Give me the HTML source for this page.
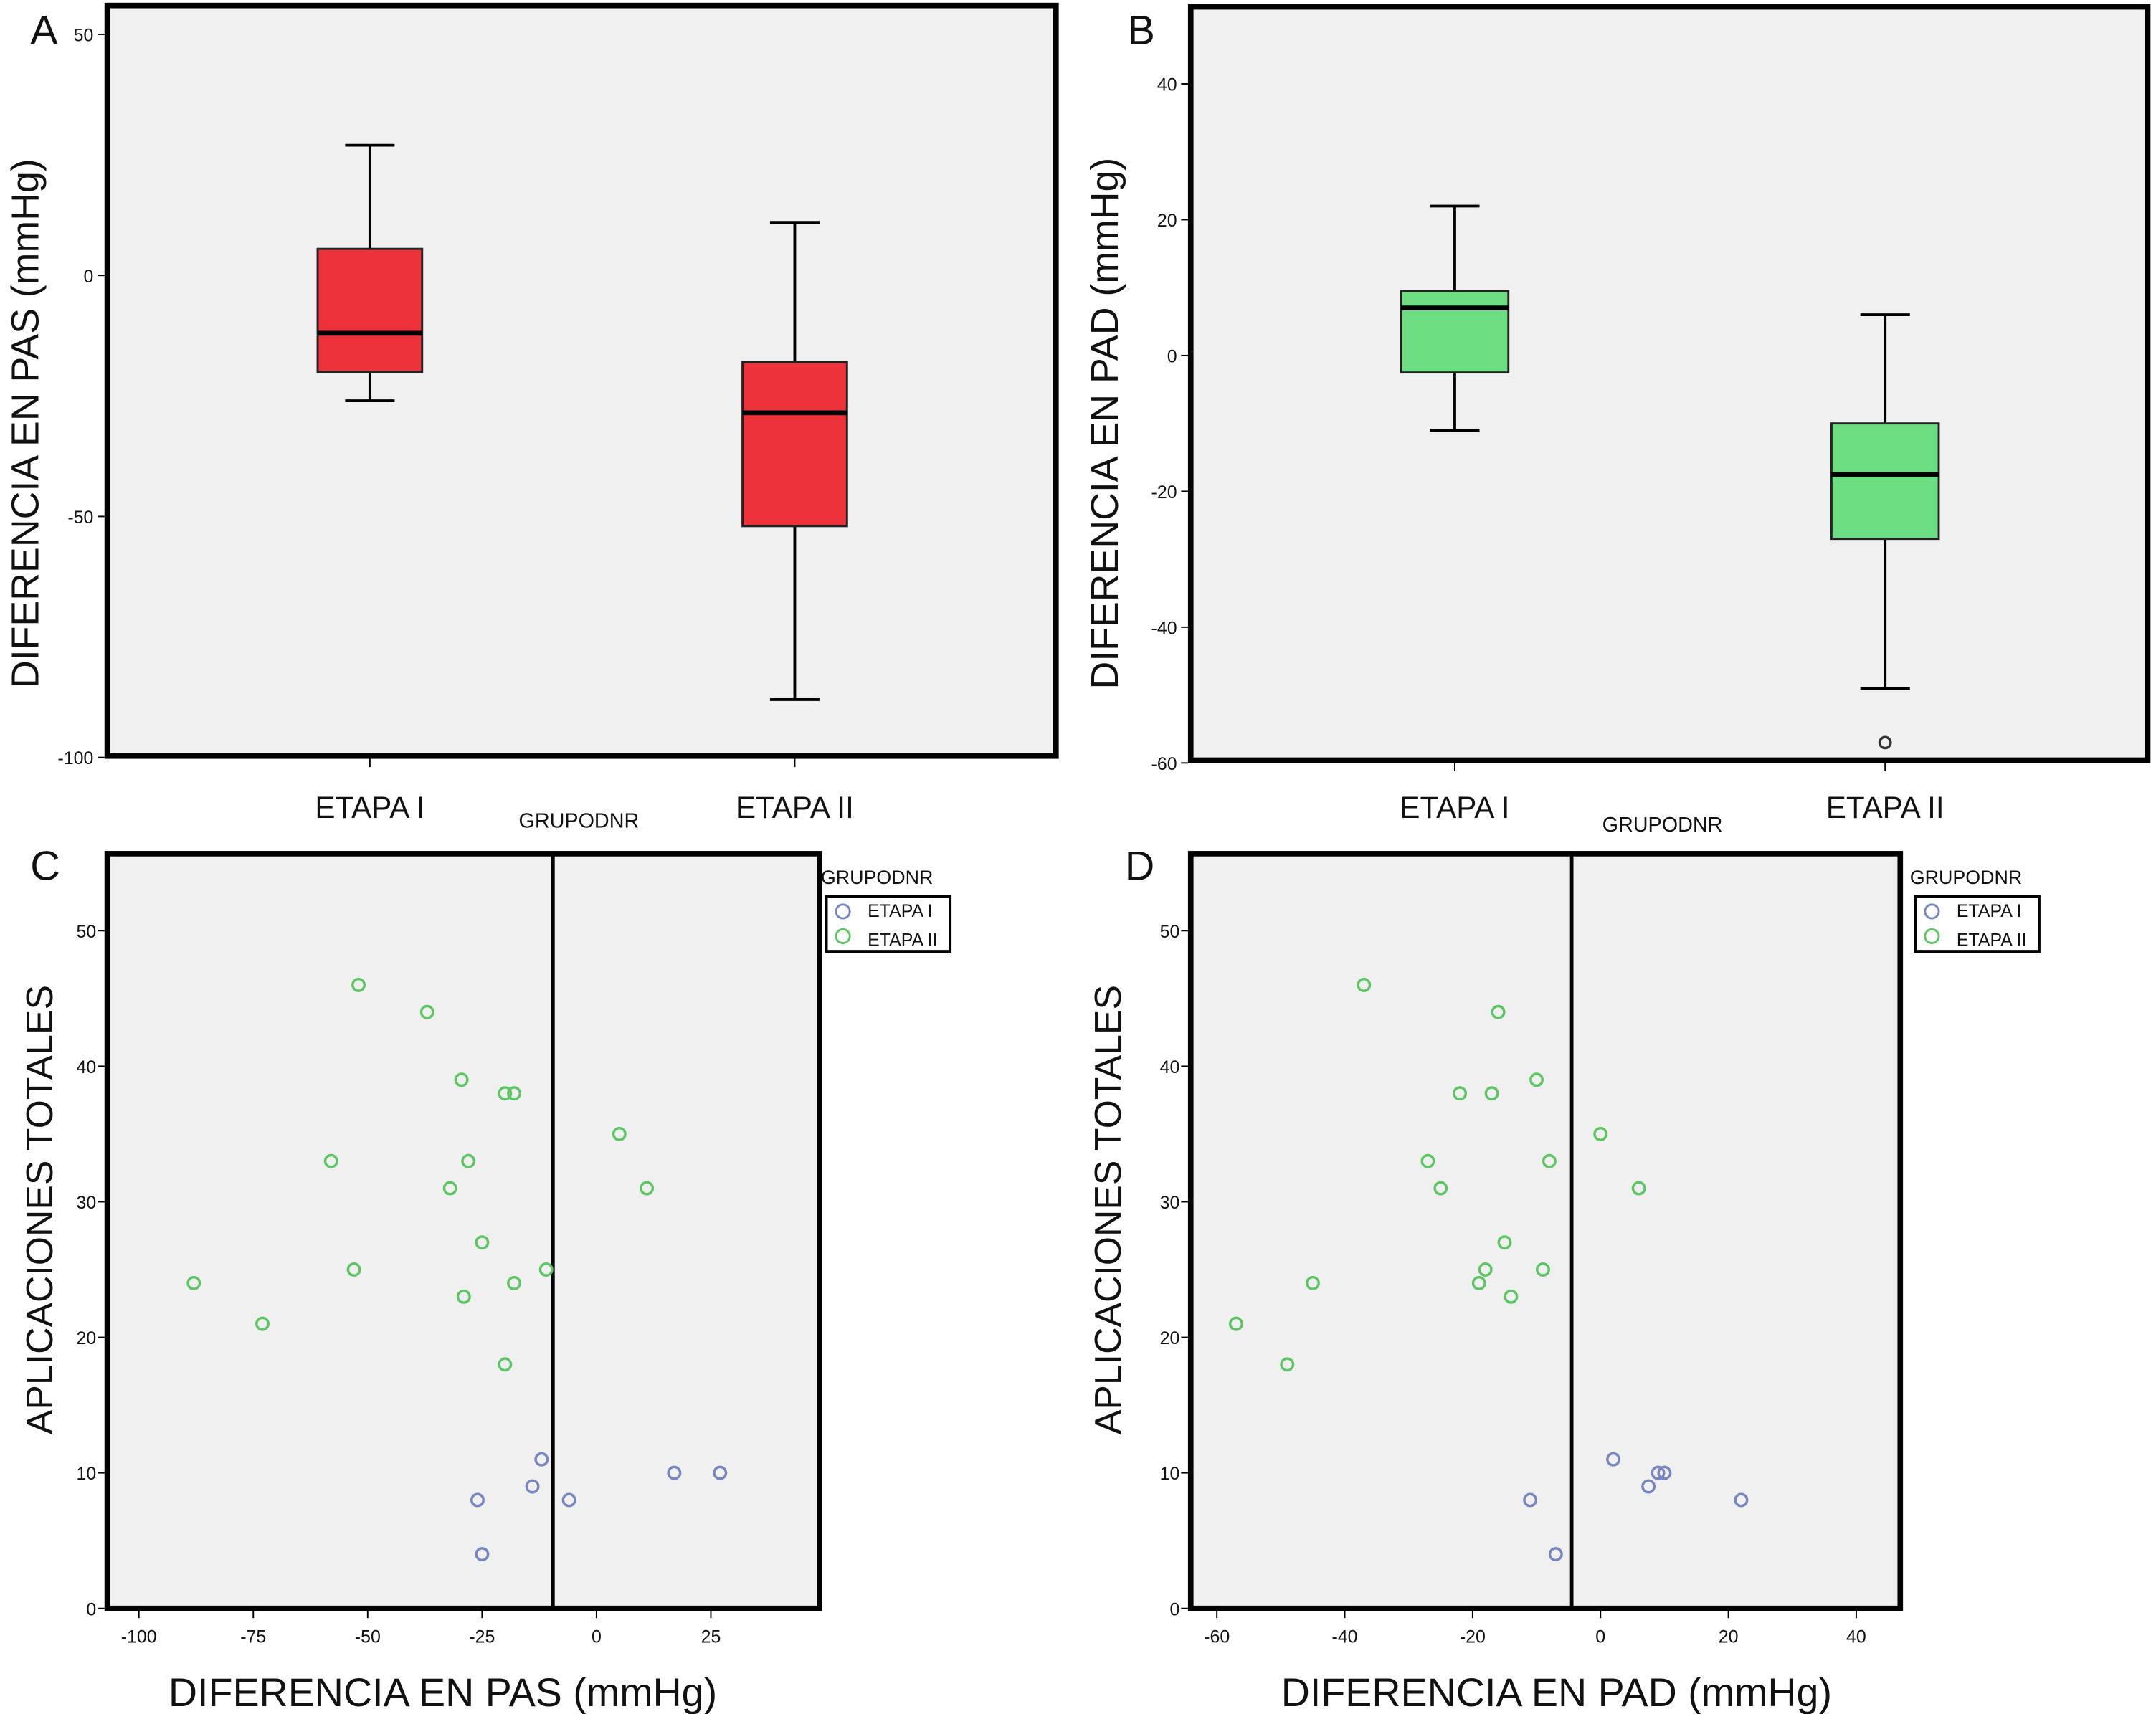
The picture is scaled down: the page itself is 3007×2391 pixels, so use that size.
<!DOCTYPE html>
<html><head><meta charset="utf-8"><style>
html,body{margin:0;padding:0;background:#fff}
svg{display:block}
text{font-family:"Liberation Sans",sans-serif;fill:#111}
</style></head><body>
<svg id="fig" width="3007" height="2391" viewBox="0 0 1568 1246.8" xmlns="http://www.w3.org/2000/svg"></svg>
<script>
// ---- data ----
const boxCategories = ["ETAPA I", "ETAPA II"];
const pasWhiskerLow = [-26, -88];
const pasQ1 = [-20, -52];
const pasMedian = [-12, -28.5];
const pasQ3 = [5.5, -18];
const pasWhiskerHigh = [27, 11];
const padWhiskerLow = [-11, -49];
const padQ1 = [-2.5, -27];
const padMedian = [7, -17.5];
const padQ3 = [9.5, -10];
const padWhiskerHigh = [22, 6];
const padOutliers = [[1, -57]];
const pasTicks = [50, 0, -50, -100];
const padTicks = [40, 20, 0, -20, -40, -60];
const scatterYTicks = [0, 10, 20, 30, 40, 50];
const pasXTicks = [-100, -75, -50, -25, 0, 25];
const padXTicks = [-60, -40, -20, 0, 20, 40];
const pasEtapa2X = [-52, -37, -29.5, -20, -18, 5, -58, -28, -32, 11, -25, -53, -11, -88, -18, -29, -73, -20];
const pasEtapa2Y = [46, 44, 39, 38, 38, 35, 33, 33, 31, 31, 27, 25, 25, 24, 24, 23, 21, 18];
const pasEtapa1X = [-12, 17, 27, -14, -26, -6, -25];
const pasEtapa1Y = [11, 10, 10, 9, 8, 8, 4];
const padEtapa2X = [-37, -16, -10, -22, -17, 0, -27, -8, -25, 6, -15, -18, -9, -45, -19, -14, -57, -49];
const padEtapa2Y = [46, 44, 39, 38, 38, 35, 33, 33, 31, 31, 27, 25, 25, 24, 24, 23, 21, 18];
const padEtapa1X = [2, 9, 10, 7.5, -11, 22, -7];
const padEtapa1Y = [11, 10, 10, 9, 8, 8, 4];
const pasRefLine = -9.5;
const padRefLine = -4.5;

const NS = "http://www.w3.org/2000/svg";
const svg = document.getElementById("fig");
function mk(tag, attrs, parent) {
  const e = document.createElementNS(NS, tag);
  for (const k in attrs) e.setAttribute(k, attrs[k]);
  (parent || svg).appendChild(e);
  return e;
}
function txt(s, attrs, parent) { const t = mk("text", attrs, parent); t.textContent = s; return t; }
function lin(d0, d1, r0, r1) { return v => r0 + (v - d0) * (r1 - r0) / (d1 - d0); }

function frame(x0, y0, x1, y1, name, parent) {
  const r = mk("rect", {x: x0, y: y0, width: x1 - x0, height: y1 - y0, fill: "#f0f0f0", stroke: "#000", "stroke-width": 4}, parent);
  
  
}

function boxPanel(o) {
  const g = mk("g", {});
  
  
  frame(o.x0, o.y0, o.x1, o.y1, o.name + "-frame", g);
  const y = lin(o.d0, o.d1, o.r0, o.r1);
  o.ticks.forEach(t => {
    mk("line", {x1: o.x0 - 7, x2: o.x0 - 2, y1: y(t), y2: y(t), stroke: "#000", "stroke-width": 1}, g);
    const l = txt(String(t), {x: o.x0 - 10, y: y(t) + 5, "font-size": 13, "text-anchor": "end"}, g);
    
    
  });
  boxCategories.forEach((c, i) => {
    const cx = o.cx[i], hw = o.hw, cw = 18;
    mk("line", {x1: cx, x2: cx, y1: o.y1 + 2, y2: o.y1 + 8, stroke: "#000"}, g);
    const w = mk("path", {d: `M${cx},${y(o.wh[i])}V${y(o.q3[i])}M${cx},${y(o.q1[i])}V${y(o.wl[i])}M${cx - cw},${y(o.wh[i])}H${cx + cw}M${cx - cw},${y(o.wl[i])}H${cx + cw}`, stroke: "#000", "stroke-width": 2, fill: "none"}, g);
    
    
    const b = mk("rect", {x: cx - hw, y: y(o.q3[i]), width: 2 * hw, height: y(o.q1[i]) - y(o.q3[i]), fill: o.color, stroke: "#222", "stroke-width": 1.5}, g);
    
    
    const m = mk("line", {x1: cx - hw, x2: cx + hw, y1: y(o.med[i]), y2: y(o.med[i]), stroke: "#000", "stroke-width": 3.5}, g);
    
    
    const cl = txt(c, {x: cx, y: 595, "font-size": 22, "text-anchor": "middle"}, g);
    
    
  });
  (o.outliers || []).forEach(p => {
    const c = mk("circle", {cx: o.cx[p[0]], cy: y(p[1]), r: 4, fill: "none", stroke: "#333", "stroke-width": 1.8}, g);
    
    
  });
  const yt = txt(o.ytitle, {x: 0, y: 0, "font-size": 28, "text-anchor": "middle", transform: `translate(${o.ytx},308) rotate(-90)`}, g);
  
  
  const pl = txt(o.letter, {x: o.lx, y: o.ly, "font-size": 30}, g);
  
  
  const gt = txt("GRUPODNR", {x: o.gx, y: o.y1 + 52, "font-size": 15, "text-anchor": "middle"}, g);
  
  
}

function scatterPanel(o) {
  const g = mk("g", {});
  
  
  frame(o.x0, o.y0, o.x1, o.y1, o.name + "-frame", g);
  const y = lin(0, 50, 1170, 677);
  const x = lin(o.xd0, o.xd1, o.xr0, o.xr1);
  scatterYTicks.forEach(t => {
    mk("line", {x1: o.x0 - 7, x2: o.x0 - 2, y1: y(t), y2: y(t), stroke: "#000"}, g);
    const l = txt(String(t), {x: o.x0 - 8, y: y(t) + 5, "font-size": 13, "text-anchor": "end"}, g);
    
    
  });
  o.xticks.forEach(t => {
    mk("line", {x1: x(t), x2: x(t), y1: o.y1 + 2, y2: o.y1 + 7, stroke: "#000"}, g);
    const l = txt(String(t), {x: x(t), y: o.y1 + 25, "font-size": 13, "text-anchor": "middle"}, g);
    
    
  });
  const rl = mk("line", {x1: x(o.ref), x2: x(o.ref), y1: o.y0, y2: o.y1, stroke: "#000", "stroke-width": 2.5}, g);
  
  
  o.gx.forEach((v, i) => {
    const c = mk("circle", {cx: x(v), cy: y(o.gy[i]), r: 4.3, fill: "none", stroke: "#5cc662", "stroke-width": 1.8}, g);
    
    
  });
  o.bx.forEach((v, i) => {
    const c = mk("circle", {cx: x(v), cy: y(o.by[i]), r: 4.3, fill: "none", stroke: "#7785c0", "stroke-width": 1.8}, g);
    
    
  });
  const lg = mk("g", {}, g);
  
  
  txt("GRUPODNR", {x: o.lx, y: 643, "font-size": 14}, lg);
  mk("rect", {x: o.lx + 4, y: 652, width: 90, height: 40, fill: "#fff", stroke: "#000", "stroke-width": 2}, lg);
  const e1 = mk("circle", {cx: o.lx + 16, cy: 663, r: 5, fill: "none", stroke: "#7785c0", "stroke-width": 1.5}, lg);
  
  
  txt("ETAPA I", {x: o.lx + 34, y: 667, "font-size": 13}, lg);
  const e2 = mk("circle", {cx: o.lx + 16, cy: 681, r: 5, fill: "none", stroke: "#5cc662", "stroke-width": 1.5}, lg);
  
  
  txt("ETAPA II", {x: o.lx + 34, y: 688, "font-size": 13}, lg);
  const xt = txt(o.xtitle, {x: o.xtx, y: 1241, "font-size": 29, "text-anchor": "middle"}, g);
  
  
  const yt = txt("APLICACIONES TOTALES", {x: 0, y: 0, "font-size": 27, "text-anchor": "middle", transform: `translate(${o.ytx},${880}) rotate(-90)`}, g);
  
  
  const pl = txt(o.letter, {x: o.px, y: 640, "font-size": 30}, g);
  
  
}

boxPanel({name: "panel-a", x0: 78, y0: 4, x1: 768, y1: 550, d0: 50, d1: -100, r0: 25, r1: 551,
  ticks: pasTicks, cx: [269, 578], hw: 38, color: "#ee3239",
  wl: pasWhiskerLow, q1: pasQ1, med: pasMedian, q3: pasQ3, wh: pasWhiskerHigh,
  ytitle: "DIFERENCIA EN PAS (mmHg)", ytx: 28, letter: "A", lx: 22, ly: 32, gx: 421});
boxPanel({name: "panel-b", x0: 866, y0: 5, x1: 1562, y1: 553, d0: 40, d1: -60, r0: 61, r1: 555,
  ticks: padTicks, cx: [1058, 1371], hw: 39, color: "#6ddd82",
  wl: padWhiskerLow, q1: padQ1, med: padMedian, q3: padQ3, wh: padWhiskerHigh, outliers: padOutliers,
  ytitle: "DIFERENCIA EN PAD (mmHg)", ytx: 813, letter: "B", lx: 820, ly: 32, gx: 1209});
scatterPanel({name: "panel-c", x0: 78, y0: 621, x1: 596, y1: 1170, xd0: -100, xd1: 25, xr0: 101, xr1: 517,
  xticks: pasXTicks, ref: pasRefLine, gx: pasEtapa2X, gy: pasEtapa2Y, bx: pasEtapa1X, by: pasEtapa1Y,
  lx: 597, xtitle: "DIFERENCIA EN PAS (mmHg)", xtx: 322, ytx: 38, letter: "C", px: 22});
scatterPanel({name: "panel-d", x0: 866, y0: 621, x1: 1382, y1: 1170, xd0: -60, xd1: 40, xr0: 885, xr1: 1350,
  xticks: padXTicks, ref: padRefLine, gx: padEtapa2X, gy: padEtapa2Y, bx: padEtapa1X, by: padEtapa1Y,
  lx: 1389, xtitle: "DIFERENCIA EN PAD (mmHg)", xtx: 1132, ytx: 815, letter: "D", px: 818});
</script>
</body></html>
